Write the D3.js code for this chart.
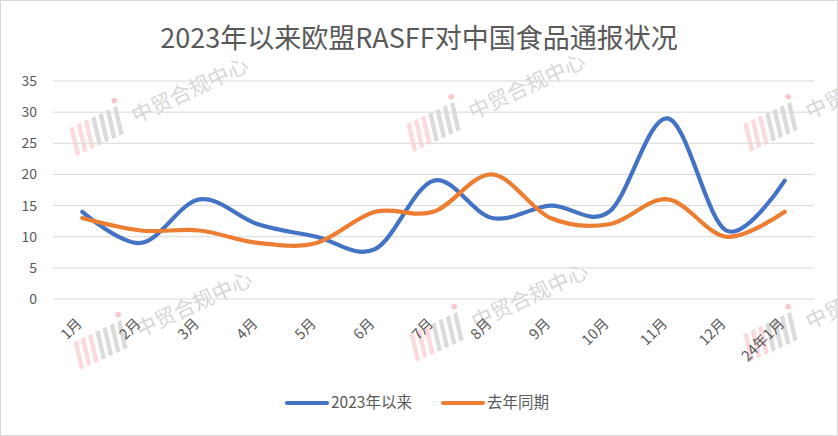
<!DOCTYPE html>
<html>
<head>
<meta charset="utf-8">
<script src="https://cdn.jsdelivr.net/npm/d3@7"></script>
<style>
  body { margin: 0; background: #fff; }
  text { font-family: "Noto Sans CJK SC", "Noto Sans", sans-serif; }
</style>
</head>
<body>
<svg id="chart" width="838" height="436"></svg>
<script>
// data
var months = ["1月", "2月", "3月", "4月", "5月", "6月", "7月", "8月", "9月", "10月", "11月", "12月", "24年1月"];
var since2023 = [14, 9, 16, 12, 10, 8, 19, 13, 15, 14, 29, 11, 19];
var lastYear = [13, 11, 11, 9, 9, 14, 14, 20, 13, 12, 16, 10, 14];
var yTicks = [0, 5, 10, 15, 20, 25, 30, 35];
var seriesNames = ["2023年以来", "去年同期"];
var seriesColors = ["#4472C4", "#ED7D31"];

var svg = d3.select("#chart");
var W = 838, H = 436;
var margin = { left: 53, right: 24, top: 81, bottom: 137 };
var textColor = "#595959";

// outer border
svg.append("rect")
  .attr("x", 0.5).attr("y", 0.5)
  .attr("width", W - 1).attr("height", H - 1)
  .attr("fill", "#fff").attr("stroke", "#D9D9D9");

// watermark (drawn first so it sits under everything)
var wm = svg.append("g").attr("class", "watermark");
var wmSpots = [[76, 156], [413, 152], [750, 152], [80, 370], [416, 362], [750, 362]];
wmSpots.forEach(function(p) {
  var g = wm.append("g").attr("transform", "translate(" + p[0] + "," + p[1] + ") rotate(-25)");
  for (var i = 0; i < 7; i++) {
    g.append("rect")
      .attr("x", i * 8).attr("y", -28)
      .attr("width", 4.5).attr("height", 28)
      .attr("transform", "skewX(-12)")
      .attr("fill", i < 3 ? "#F7B9C0" : "#BDBDBD")
      .attr("opacity", 0.55);
  }
  g.append("circle").attr("cx", 58).attr("cy", -34).attr("r", 2.8).attr("fill", "#F7B9C0").attr("opacity", 0.8);
  g.append("text")
    .attr("x", 68).attr("y", -4)
    .attr("font-size", 21)
    .attr("fill", "#BDBDBD")
    .attr("opacity", 0.6)
    .text("中贸合规中心");
});

// title
svg.append("text")
  .attr("x", W / 2).attr("y", 48)
  .attr("text-anchor", "middle")
  .attr("font-size", 27)
  .attr("fill", textColor)
  .text("2023年以来欧盟RASFF对中国食品通报状况");

var x = d3.scaleBand()
  .domain(months)
  .range([margin.left, W - margin.right]);

var y = d3.scaleLinear()
  .domain([0, 35])
  .range([H - margin.bottom, margin.top]);

// gridlines
svg.append("g")
  .selectAll("line")
  .data(yTicks)
  .join("line")
  .attr("x1", margin.left).attr("x2", W - margin.right)
  .attr("y1", function(d) { return y(d); })
  .attr("y2", function(d) { return y(d); })
  .attr("stroke", "#D9D9D9")
  .attr("stroke-width", 1);

// y axis labels
var yAxis = d3.axisLeft(y).tickValues(yTicks).tickSize(0).tickPadding(0);
var gy = svg.append("g")
  .attr("transform", "translate(" + (margin.left - 16) + ",0)")
  .call(yAxis);
gy.select(".domain").remove();
gy.selectAll("text")
  .attr("font-size", 14)
  .attr("fill", textColor)
  .style("font-family", "\"Noto Sans CJK SC\", sans-serif");

// x axis labels, rotated
var xAxis = d3.axisBottom(x).tickSize(0).tickPadding(0);
var gx = svg.append("g")
  .attr("transform", "translate(0," + (H - margin.bottom) + ")")
  .call(xAxis);
gx.select(".domain").remove();
gx.selectAll("text")
  .attr("font-size", 14.5)
  .attr("fill", textColor)
  .style("font-family", "\"Noto Sans CJK SC\", sans-serif")
  .attr("text-anchor", "end")
  .attr("dy", "0.35em")
  .attr("transform", "translate(-3,22) rotate(-45)");

// lines
var line = d3.line()
  .x(function(d, i) { return x(months[i]) + x.bandwidth() / 2; })
  .y(function(d) { return y(d); })
  .curve(d3.curveCardinal.tension(0));

[since2023, lastYear].forEach(function(vals, k) {
  svg.append("path")
    .datum(vals)
    .attr("d", line)
    .attr("fill", "none")
    .attr("stroke", seriesColors[k])
    .attr("stroke-width", 4.2)
    .attr("stroke-linecap", "round")
    .attr("stroke-linejoin", "round");
});

// legend
var legendX = [287, 443];
seriesNames.forEach(function(name, k) {
  var g = svg.append("g").attr("transform", "translate(" + legendX[k] + ",403)");
  g.append("line")
    .attr("x1", 0).attr("x2", 40)
    .attr("stroke", seriesColors[k])
    .attr("stroke-width", 4.2)
    .attr("stroke-linecap", "round");
  g.append("text")
    .attr("x", 44).attr("y", 0)
    .attr("dy", "0.35em")
    .attr("font-size", 15.5)
    .attr("fill", textColor)
    .text(name);
});
</script>
</body>
</html>
